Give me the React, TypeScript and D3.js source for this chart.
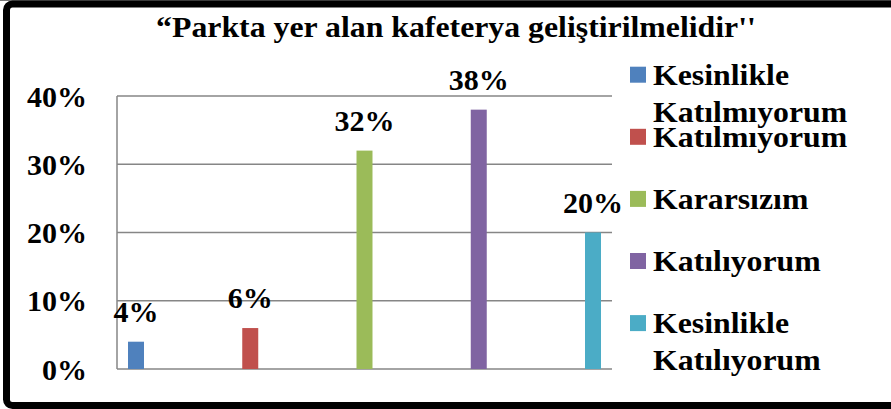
import React from "react";
import * as d3 from "d3";

const TITLE = "\u201CParkta yer alan kafeterya geliştirilmelidir''";
const categories = ["Kesinlikle Katılmıyorum", "Katılmıyorum", "Kararsızım", "Katılıyorum", "Kesinlikle Katılıyorum"];
const legendLines = [["Kesinlikle", "Katılmıyorum"], ["Katılmıyorum"], ["Kararsızım"], ["Katılıyorum"], ["Kesinlikle", "Katılıyorum"]];
const values = [0.04, 0.06, 0.32, 0.38, 0.20];
const colors = ["#4F81BD", "#C0504D", "#9BBB59", "#8064A2", "#4BACC6"];
const yTicks = [0, 0.1, 0.2, 0.3, 0.4];

const W = 891;
const H = 409;
const FONT = '"Liberation Serif", Tinos, "Times New Roman", Times, "DejaVu Serif", serif';
const txt: React.CSSProperties = { fontFamily: FONT, fontWeight: 700, fontSize: "30px" };
const STRETCH = 1.06;

export default function App() {
  const plotLeft = 117;
  const plotRight = 612;
  const y = d3.scaleLinear().domain([0, 0.4]).range([369, 96]);
  const x = d3.scaleBand<string>().domain(categories).range([128, 601]).paddingInner(0.86).paddingOuter(0);
  const fmt = d3.format(".0%");
  const legendY = d3.scaleLinear().domain([0, 1]).range([66.7, 128.8]);

  return (
    <svg width={W} height={H} style={{ position: "absolute", left: 0, top: 0, background: "#fff" }}>
      <rect x={0} y={0} width={W} height={H} fill="#fff" />
      <line x1={0} x2={W} y1={0.5} y2={0.5} stroke="#777" strokeWidth={1} />
      <rect x={6.5} y={4} width={920} height={401.5} rx={6} fill="none" stroke="#000" strokeWidth={7} />
      <text transform={`translate(456,36.5) scale(${STRETCH},1)`} textAnchor="middle" style={txt} fill="#000">{TITLE}</text>

      {yTicks.map((t) => (
        <g key={t}>
          <line x1={plotLeft} x2={plotRight} y1={y(t)} y2={y(t)} stroke="#868686" strokeWidth={1.5} />
          <text x={87} y={y(t) + 10.5} textAnchor="end" style={txt} fill="#000">{fmt(t)}</text>
        </g>
      ))}
      <line x1={plotLeft} x2={plotLeft} y1={y(0.4)} y2={y(0)} stroke="#868686" strokeWidth={1.5} />

      {categories.map((c, i) => (
        <g key={c}>
          <rect x={x(c)} y={y(values[i])} width={x.bandwidth()} height={y(0) - y(values[i])} fill={colors[i]} />
          <text x={(x(c) as number) + x.bandwidth() / 2} y={y(values[i]) - 20} textAnchor="middle" style={txt} fill="#000">{fmt(values[i])}</text>
        </g>
      ))}

      {categories.map((c, i) => {
        const top = legendY(i);
        return (
          <g key={"lg" + c}>
            <rect x={630} y={top} width={16} height={16} fill={colors[i]} />
            {legendLines[i].map((ln, j) => (
              <text key={j} transform={`translate(653,${top + 18.3 + j * 37}) scale(${STRETCH},1)`} style={txt} fill="#000">{ln}</text>
            ))}
          </g>
        );
      })}
    </svg>
  );
}
